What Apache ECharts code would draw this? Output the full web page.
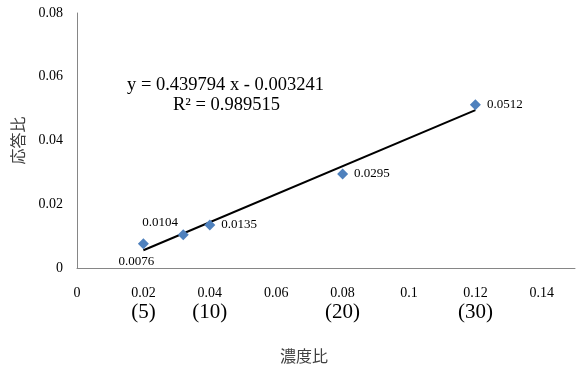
<!DOCTYPE html>
<html>
<head>
<meta charset="utf-8">
<script src="https://cdn.jsdelivr.net/npm/echarts@6/dist/echarts.min.js"></script>
<style>
  html, body { margin: 0; padding: 0; background: #fff; }
  #chart { width: 584px; height: 369px; }
</style>
</head>
<body>
<div id="chart"></div>
<script>
// Measured points: concentration ratio vs. response ratio
const concRatio = [0.02, 0.032, 0.04, 0.08, 0.12];
const respRatio = [0.0076, 0.0104, 0.0135, 0.0295, 0.0512];
// Dilution levels shown under selected x ticks
const levelTicks = { '0.02': '(5)', '0.04': '(10)', '0.08': '(20)', '0.12': '(30)' };
// Linear fit y = a x + b
const slope = 0.439794;
const intercept = -0.003241;
const rSquared = 0.989515;
const fitRange = [0.02, 0.12];

const serif = '"Liberation Serif", "Times New Roman", serif';
const cjk = '"Noto Sans CJK JP", "Noto Sans", sans-serif';

const labelStyles = [
  { position: 'bottom', offset: [-7, 1] },
  { position: 'top', offset: [-23, 5] },
  { position: 'right', distance: 6 },
  { position: 'right', distance: 6 },
  { position: 'right', distance: 6 }
];

const points = concRatio.map((x, i) => ({
  value: [x, respRatio[i]],
  label: Object.assign({ show: true, formatter: String(respRatio[i]) }, labelStyles[i])
}));

const fitLine = fitRange.map(x => [x, slope * x + intercept]);

const chart = echarts.init(document.getElementById('chart'));
chart.setOption({
  animation: false,
  backgroundColor: '#fff',
  grid: { left: 77, top: 13, right: 9, bottom: 100 },
  xAxis: {
    type: 'value', min: 0, max: 0.15, interval: 0.02,
    name: '濃度比', nameLocation: 'middle', nameGap: 80,
    nameTextStyle: { fontFamily: cjk, fontSize: 16, color: '#404040', padding: [0, 44, 0, 0] },
    axisLine: { show: true, lineStyle: { color: '#868686', width: 1 } },
    axisTick: { show: false },
    splitLine: { show: false },
    axisLabel: {
      margin: 17, color: '#000', fontFamily: serif, fontSize: 14, lineHeight: 16,
      formatter: v => {
        const key = String(+v.toFixed(2));
        if (Math.abs(v - 0.15) < 1e-9) return '';
        const lvl = levelTicks[key];
        return lvl ? key + '\n{lv|' + lvl + '}' : key;
      },
      rich: { lv: { fontFamily: serif, fontSize: 21, color: '#000', lineHeight: 22 } }
    }
  },
  yAxis: {
    type: 'value', min: 0, max: 0.08, interval: 0.02,
    name: '応答比', nameLocation: 'middle', nameGap: 51, nameRotate: 90,
    nameTextStyle: { fontFamily: cjk, fontSize: 16, color: '#404040' },
    axisLine: { show: true, lineStyle: { color: '#868686', width: 1 } },
    axisTick: { show: false },
    splitLine: { show: false },
    axisLabel: { margin: 14, color: '#000', fontFamily: serif, fontSize: 14,
      formatter: v => String(+v.toFixed(2)) }
  },
  series: [
    {
      type: 'line', data: fitLine, symbol: 'none',
      lineStyle: { color: '#000', width: 2 }, z: 2
    },
    {
      type: 'scatter', data: points, symbol: 'diamond', symbolSize: 11,
      itemStyle: { color: '#4F81BD', opacity: 1 },
      label: { color: '#000', fontFamily: serif, fontSize: 13 }, z: 3
    }
  ],
  graphic: [
    { type: 'text', left: 127, top: 76,
      style: { text: 'y = ' + slope + ' x - ' + Math.abs(intercept), font: '18.5px ' + serif, fill: '#000' } },
    { type: 'text', left: 173, top: 96,
      style: { text: 'R² = ' + rSquared, font: '18.5px ' + serif, fill: '#000' } }
  ]
});
</script>
</body>
</html>
